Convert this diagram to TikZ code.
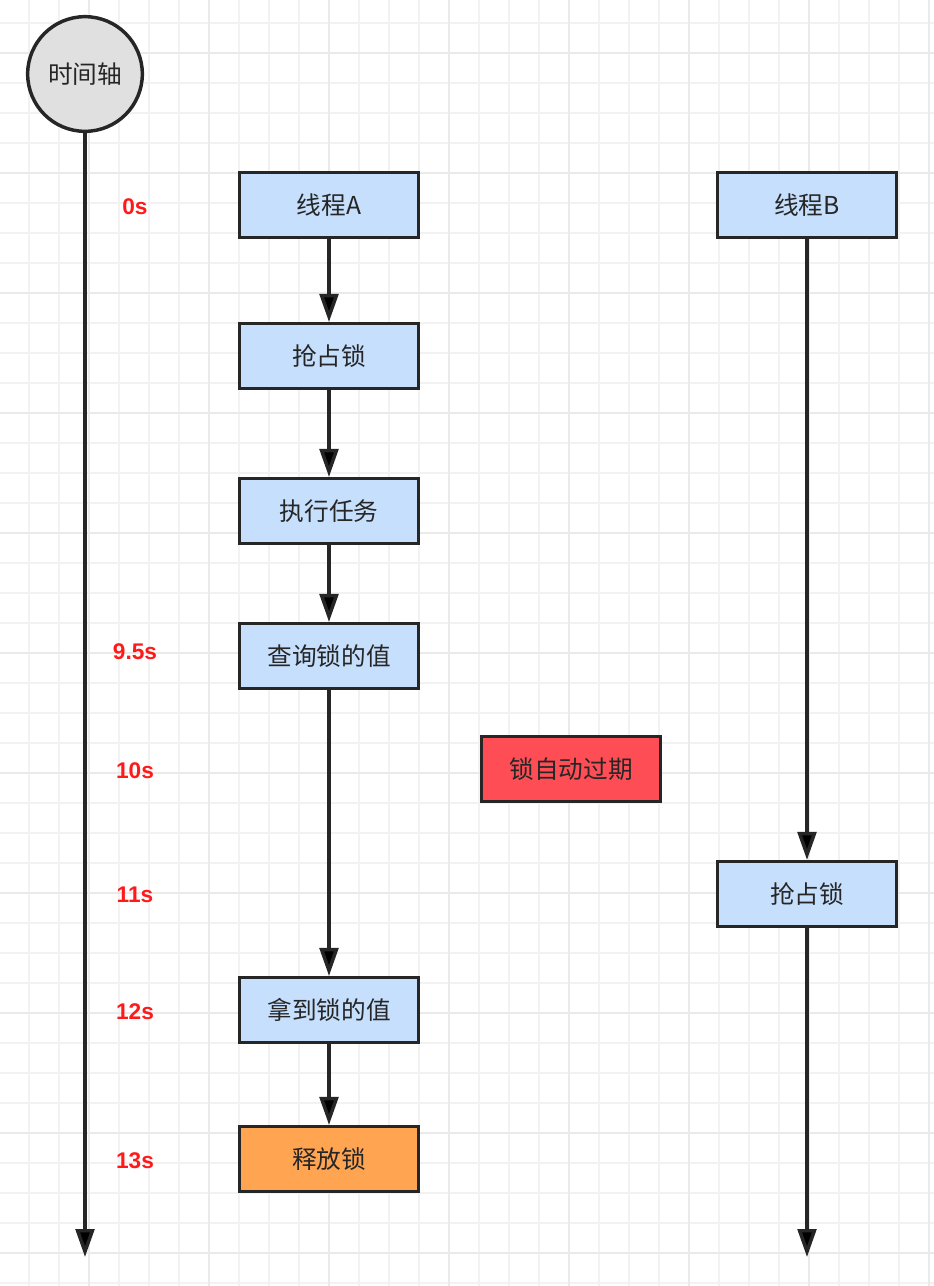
\documentclass[tikz,border=0pt]{standalone}
\usepackage{fontspec}
\usepackage{xcolor}
\usepackage{tikz}
\usetikzlibrary{arrows.meta}
\setmainfont{Noto Sans CJK SC}
\newfontfamily\timefont{Liberation Sans}
\definecolor{boxblue}{HTML}{C6DFFC}
\definecolor{boxred}{HTML}{FF4D55}
\definecolor{boxorange}{HTML}{FFA552}
\definecolor{axisgray}{HTML}{E0E0E0}
\definecolor{inkdark}{HTML}{262626}
\definecolor{timered}{HTML}{FF1A1A}
\definecolor{minorgrid}{HTML}{F2F2F2}
\definecolor{majorgrid}{HTML}{EAEAEA}
\tikzset{
    stepbox/.style={shape=rectangle,draw=inkdark,line width=2.6pt,fill=boxblue,
        minimum width=134pt,minimum height=48.5pt,font=\fontsize{18.5}{22}\selectfont,text=inkdark},
    timelabel/.style={text=timered,font=\timefont\bfseries\fontsize{17}{20}\selectfont},
    flow/.style={draw=inkdark,line width=2.6pt,-{Triangle[length=21pt,width=14pt]}}
}
\begin{document}
\begin{tikzpicture}[x=0.75pt,y=-0.75pt]
        \useasboundingbox (0,0) rectangle (934,1286);
        \fill[white] (0,0) rectangle (934,1286);
        % grid
        \foreach \gx in {29,59,...,929} \draw[minorgrid,line width=1pt] (\gx,0) -- (\gx,1286);
        \foreach \gy in {23,53,...,1283} \draw[minorgrid,line width=1pt] (0,\gy) -- (934,\gy);
        \foreach \gx in {89,209,...,929} \draw[majorgrid,line width=1pt] (\gx,0) -- (\gx,1286);
        \foreach \gy in {53,173,...,1283} \draw[majorgrid,line width=1pt] (0,\gy) -- (934,\gy);
        % time axis
        \node[shape=circle,draw=inkdark,line width=2.6pt,fill=axisgray,minimum size=86pt,
            font=\fontsize{18.5}{22}\selectfont,text=inkdark] (axis) at (85,74){时间轴};
        \coordinate (axisend) at (85,1257);
        \path [flow](axis) edge (axisend);
        \node[timelabel] (t0) at (135,207){0s};
        \node[timelabel] (t95) at (135,652){9.5s};
        \node[timelabel] (t10) at (135,771){10s};
        \node[timelabel] (t11) at (135,895){11s};
        \node[timelabel] (t12) at (135,1012){12s};
        \node[timelabel] (t13) at (135,1161){13s};
        % thread A
        \node[stepbox] (A) at (329,205){线程A};
        \node[stepbox] (A1) at (329,356){抢占锁};
        \node[stepbox] (A2) at (329,511){执行任务};
        \node[stepbox] (A3) at (329,656){查询锁的值};
        \node[stepbox] (A4) at (329,1010){拿到锁的值};
        \node[stepbox,fill=boxorange] (A5) at (329,1159){释放锁};
        \path [flow](A) edge (A1);
        \path [flow](A1) edge (A2);
        \path [flow](A2) edge (A3);
        \path [flow](A3) edge (A4);
        \path [flow](A4) edge (A5);
        % expiry
        \node[stepbox,fill=boxred] (E) at (571,769){锁自动过期};
        % thread B
        \node[stepbox] (B) at (807,205){线程B};
        \node[stepbox] (B1) at (807,894){抢占锁};
        \coordinate (Bend) at (807,1257);
        \path [flow](B) edge (B1);
        \path [flow](B1) edge (Bend);
    \end{tikzpicture}
\end{document}
